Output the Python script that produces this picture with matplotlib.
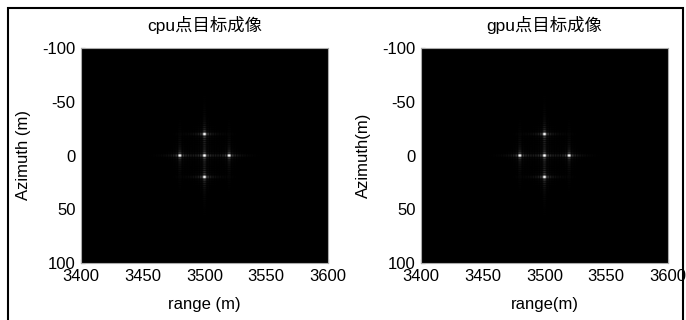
import numpy as np
import matplotlib
matplotlib.use("Agg")
import matplotlib.pyplot as plt
from matplotlib.patches import Rectangle

# Point target positions
target_range = [3500, 3480, 3520, 3500, 3500]
target_azimuth = [0, 0, 0, -20, 20]
titles = ["cpu点目标成像", "gpu点目标成像"]
xlabels = ["range (m)", "range(m)"]
ylabels = ["Azimuth (m)", "Azimuth(m)"]
xticks = [3400, 3450, 3500, 3550, 3600]
yticks = [-100, -50, 0, 50, 100]

# image grid (point-spread response of each target)
rg = np.linspace(3400, 3600, 401)
az = np.linspace(-100, 100, 401)
X, Y = np.meshgrid(rg, az)
img = np.zeros_like(X)
for r0, a0 in zip(target_range, target_azimuth):
    dx = X - r0
    dy = Y - a0
    img += (np.abs(np.sinc(dx / 2.0)) * np.exp(-(dx / 22.0) ** 2)) * \
           (np.abs(np.sinc(dy / 2.0)) * np.exp(-(dy / 35.0) ** 2))
img = img / img.max()

plt.rcParams["font.family"] = ["Liberation Sans", "Noto Sans CJK SC", "DejaVu Sans"]
plt.rcParams["axes.unicode_minus"] = False

fig = plt.figure(figsize=(6.86, 3.20), dpi=100)
lefts = [81 / 686, 421 / 686]
for i in range(2):
    ax = fig.add_axes([lefts[i], 1 - 263 / 320, 247 / 686, 215 / 320])
    ax.imshow(img, cmap="gray", vmin=0, vmax=0.85, extent=[3400, 3600, 100, -100],
              aspect="auto", interpolation="bilinear")
    ax.set_xlim(3400, 3600)
    ax.set_ylim(100, -100)
    ax.set_xticks(xticks)
    ax.set_yticks(yticks)
    ax.tick_params(direction="in", length=3, color="black", labelsize=12, pad=4)
    for s in ax.spines.values():
        s.set_color("#aaaaaa")
        s.set_linewidth(0.8)
    ax.set_title(titles[i], fontsize=12.5, pad=12)
    ax.set_xlabel(xlabels[i], fontsize=12, labelpad=10)
    ax.set_ylabel(ylabels[i], fontsize=12, labelpad=8)

fig.patches.append(Rectangle((8 / 686, -0.05), 675 / 686, 1 - 8 / 320 + 0.05,
                             transform=fig.transFigure, fill=False,
                             edgecolor="black", linewidth=1.5, clip_on=False))
fig.savefig("out.png", dpi=100)
